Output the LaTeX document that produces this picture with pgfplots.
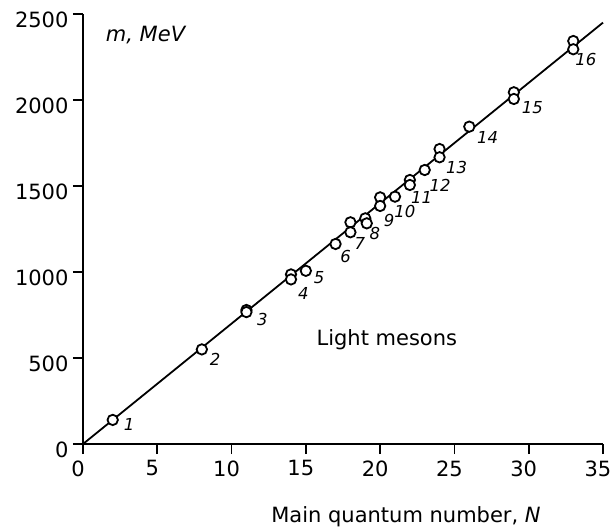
\documentclass[border=0pt]{standalone}
\usepackage{pgfplots}
\pgfplotsset{compat=1.18}
\usepackage{fontspec}
\setmainfont{DejaVu Sans}

% Regge-like linear mass spectrum of light mesons
\pgfplotstableread{
N   m
2   140
8   550
11  779
11  767
14  986
14  957
15  1007
17  1163
18  1289
18  1231
19  1312
19.1 1283
20  1434
20  1384
21  1438
22  1535
22  1506
23  1593
24  1715
24  1667
26  1845
29  2045
29  2006
33  2343
33  2295
}\mesons

\pgfplotstableread{
x     y     n
3.10  116   1
8.89  492   2
12.07 725   3
14.83 876   4
15.90 967   5
17.68 1093  6
18.64 1163  7
19.65 1221  8
20.60 1298  9
21.67 1351  10
22.80 1434  11
24.03 1506  12
25.15 1606  13
27.24 1783  14
30.24 1958  15
33.84 2237  16
}\levels

\begin{document}
\begin{tikzpicture}
\useasboundingbox (-83pt,-87pt) rectangle (527pt,444pt);
\begin{axis}[
  at={(0pt,0pt)}, anchor=south west,
  scale only axis,
  width=520pt, height=430pt,
  xmin=0, xmax=35, ymin=0, ymax=2500,
  axis lines*=left,
  axis line style={-, line width=1.8pt},
  xtick={0,5,...,35},
  ytick={0,500,...,2500},
  tick align=outside,
  major tick length=10pt,
  tick style={line width=1.8pt, black},
  /pgf/number format/assume math mode=true,
  /pgf/number format/set thousands separator={},
  tick label style={font=\fontsize{21}{21}\selectfont},
  xticklabel style={xshift=-5pt, yshift=-3pt},
  yticklabel style={xshift=-1pt, yshift=-6pt},
  clip=false,
]
\addplot[black, line width=1.8pt] coordinates {(0,0) (35,2450)};
\addplot[only marks, mark=*, mark size=5.2pt,
  mark options={fill=white, draw=black, line width=1.8pt}]
  table[x=N, y=m] {\mesons};
\addplot[only marks, mark=none,
  nodes near coords={\textit{\pgfplotspointmeta}},
  point meta=explicit symbolic,
  every node near coord/.style={anchor=center, font=\fontsize{16.5}{16.5}\selectfont}]
  table[x=x, y=y, meta=n] {\levels};
\node[font=\fontsize{21}{21}\selectfont\itshape] at (axis cs:4.21,2378) {m, MeV};
\node[font=\fontsize{21}{21}\selectfont] at (axis cs:20.45,605) {Light mesons};
\node[font=\fontsize{21}{21}\selectfont] at (axis cs:21.74,-424) {Main quantum number, \textit{N}};
\end{axis}
\end{tikzpicture}
\end{document}
